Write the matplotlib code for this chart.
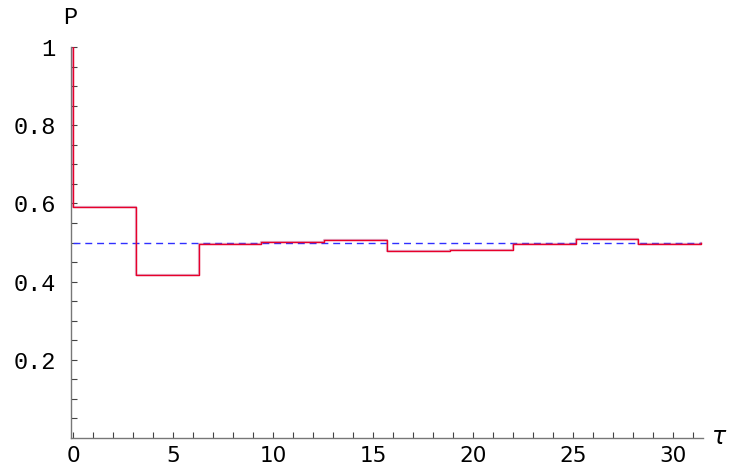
import matplotlib
matplotlib.use('Agg')
import matplotlib.pyplot as plt
import numpy as np

# step values of P on each interval [k*pi, (k+1)*pi]
p_start = 1.0
p_steps = [0.591, 0.416, 0.497, 0.501, 0.507, 0.479, 0.482, 0.497, 0.509, 0.495]
p_end = 0.5
p_limit = 0.5

n = len(p_steps)
tau = np.concatenate([[0.0], np.arange(n + 1) * np.pi])
p = np.concatenate([[p_start], p_steps, [p_end]])

fig = plt.figure(figsize=(7.38, 4.70), dpi=100)
ax = fig.add_axes([71 / 738, 1 - 438 / 470, (703 - 71) / 738, (438 - 47) / 470])

ax.plot([0, n * np.pi], [p_limit, p_limit], color='#3030ff', lw=1.0,
        dashes=(5, 3.5), zorder=2)
ax.step(tau, p, where='post', color='#b04080', lw=1.6, alpha=0.4, zorder=3)
ax.step(tau, p, where='post', color='#e8002a', lw=1.0, zorder=4)

ax.set_xlim(-0.1, 31.5)
ax.set_ylim(0, 1)

for s in ['top', 'right']:
    ax.spines[s].set_visible(False)
for s in ['left', 'bottom']:
    ax.spines[s].set_color('#777777')
    ax.spines[s].set_linewidth(1.0)

ax.set_xticks(np.arange(0, 31, 5))
ax.set_xticks(np.arange(0, 32, 1), minor=True)
ax.set_yticks([0.2, 0.4, 0.6, 0.8, 1.0])
ax.set_yticklabels(['0.2', '0.4', '0.6', '0.8', '1'])
ax.set_yticks(np.arange(0.05, 1.0, 0.05), minor=True)

ax.tick_params(axis='both', which='both', direction='in', length=4,
               width=0.8, color='#444444')
ax.tick_params(axis='x', labelsize=15.5, pad=6)
ax.tick_params(axis='y', labelsize=17, pad=11)
for lab in ax.get_yticklabels():
    lab.set_family('Liberation Mono')
for lab in ax.get_xticklabels():
    lab.set_family('DejaVu Sans')

fig.text(70 / 738, 1 - 17 / 470, 'P', family='Liberation Mono', fontsize=17,
         ha='center', va='center')
fig.text(719 / 738, 1 - 437 / 470, 'τ', family='DejaVu Sans', style='italic',
         fontsize=17, ha='center', va='center')

fig.savefig('out.png', dpi=100)
